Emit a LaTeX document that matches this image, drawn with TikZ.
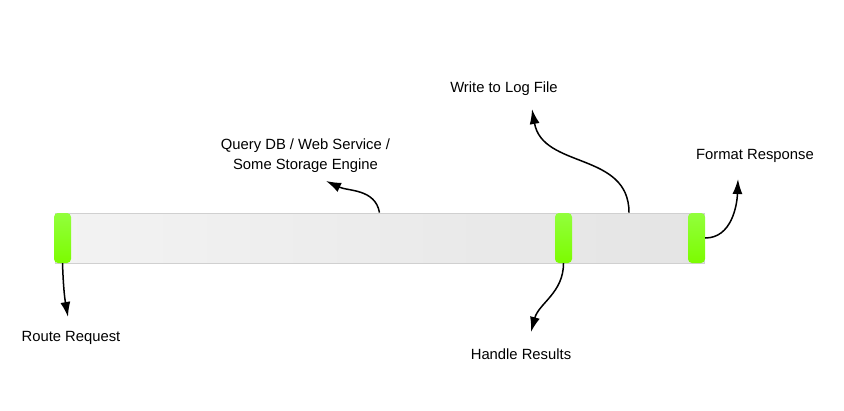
\documentclass[tikz,border=0pt]{standalone}
\usepackage{fontspec}
\setmainfont{Liberation Sans}
\usetikzlibrary{arrows.meta}

\definecolor{barleft}{HTML}{F3F3F3}
\definecolor{barright}{HTML}{E4E4E4}
\definecolor{barline}{HTML}{D0D0D0}
\definecolor{marktop}{HTML}{92FF3C}
\definecolor{markbottom}{HTML}{7CFC00}

\begin{document}
\begin{tikzpicture}[x=1pt,y=-1pt,
    request/.style={minimum width=649pt,minimum height=50pt,inner sep=0pt,
      draw=barline,line width=0.8pt,left color=barleft,right color=barright},
    marker/.style={minimum width=17pt,minimum height=50pt,inner sep=0pt,
      rounded corners=4pt,top color=marktop,bottom color=markbottom},
    label/.style={font=\fontsize{14.8}{20}\selectfont,inner sep=0pt,anchor=base},
    flow/.style={line width=1.5pt,-{Latex[length=15pt,width=10pt]}}]

    % page frame
    \useasboundingbox (0,0) rectangle (844,410);

    % the request bar and its green markers
    \node[request] (bar) at (379.5,238) {};
    \node[marker] (m1) at (62.5,238) {};
    \node[marker] (m2) at (563.5,238) {};
    \node[marker] (m3) at (696.5,238) {};

    % labels
    \node[label] (route) at (71,341) {Route Request};
    \node[label] (handle) at (521,359) {Handle Results};
    \node[label,align=center] (query) at (305.5,169.7) {Query DB / Web Service /\\Some Storage Engine};
    \node[label] (log) at (504,92) {Write to Log File};
    \node[label] (format) at (755,159) {Format Response};

    % arrow tips
    \coordinate (route tip) at (68,317);
    \coordinate (handle tip) at (531,332);
    \coordinate (query tip) at (326,181);
    \coordinate (log tip) at (532,109);
    \coordinate (format tip) at (738,179);

    % the steps
    \draw[flow] (m1.south) to[out=-88,in=100] (route tip);
    \draw[flow] (m2.south) to[out=-90,in=75] (handle tip);
    \draw[flow] (bar.north) to[out=100,in=-25] (query tip);
    \draw[flow] ([xshift=249.5pt]bar.north) to[out=90,in=-80,looseness=1.1] (log tip);
    \draw[flow] (m3.east) to[out=0,in=-92] (format tip);
\end{tikzpicture}
\end{document}
